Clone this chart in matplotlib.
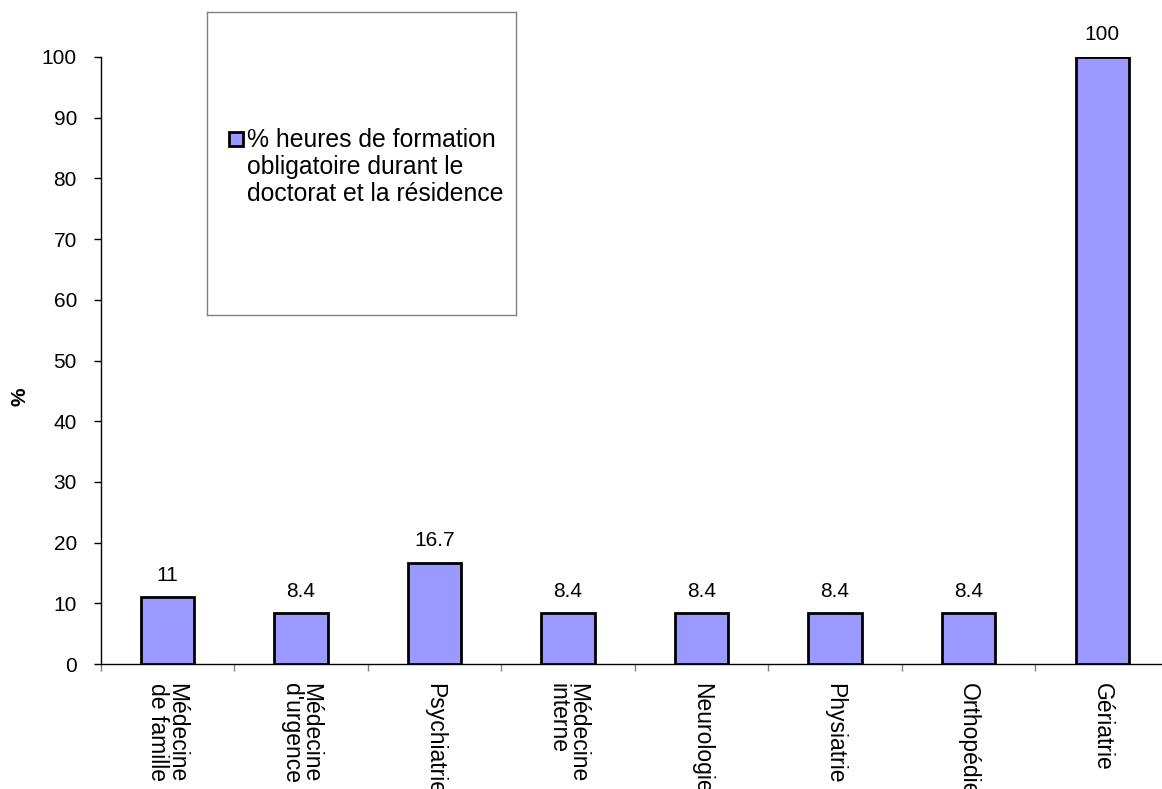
import numpy as np
import matplotlib
matplotlib.use("Agg")
import matplotlib.pyplot as plt

# data
categories = ["Médecine\nde famille", "Médecine\nd'urgence", "Psychiatrie", "Médecine\ninterne",
              "Neurologie", "Physiatrie", "Orthopédie", "Gériatrie"]
values = [11, 8.4, 16.7, 8.4, 8.4, 8.4, 8.4, 100]
value_labels = ["11", "8.4", "16.7", "8.4", "8.4", "8.4", "8.4", "100"]
yticks = list(range(0, 101, 10))
series_name = "% heures de formation\nobligatoire durant le\ndoctorat et la résidence"

plt.rcParams['font.family'] = ['Liberation Sans', 'DejaVu Sans']

W, H = 1162, 789
fig = plt.figure(figsize=(W / 100, H / 100), dpi=100)
ax = fig.add_axes([100.5 / W, 1 - 664 / H, (1169 - 100.5) / W, (664 - 57) / H])

x = np.arange(len(categories))
ax.bar(x, values, width=0.4, color="#9999FF", edgecolor="black", linewidth=2,
       label=series_name, zorder=3)

for xi, v, lab in zip(x, values, value_labels):
    ax.annotate(lab, (xi, v), xytext=(0, 9), textcoords="offset points",
                ha="center", va="bottom", fontsize=15)

ax.set_xlim(-0.5, len(categories) - 0.5)
ax.set_ylim(0, 100)
ax.set_yticks(yticks)
ax.tick_params(axis="y", labelsize=15, length=5, width=1, direction="out", pad=12)

# category labels centered, ticks at boundaries
ax.set_xticks(np.arange(len(categories) + 1) - 0.5)
ax.set_xticklabels([])
ax.tick_params(axis="x", length=5, width=1, color="#808080", direction="out")
for xi, cat in zip(x, categories):
    ax.text(xi, -19 / (664 - 57), cat, transform=ax.get_xaxis_transform(), rotation=270,
            ha="center", va="top", fontsize=16.5, multialignment="left", linespacing=0.8)

ax.spines["top"].set_visible(False)
ax.spines["right"].set_visible(False)
ax.spines["left"].set_linewidth(1)
ax.spines["bottom"].set_linewidth(1)

# y label "%"
fig.text(19.5 / W, 1 - 397 / H, "%", rotation=90, ha="center", va="center",
         fontsize=15, fontweight="bold")

# legend box
leg_ax = fig.add_axes([207 / W, 1 - 315 / H, (516 - 207) / W, (315 - 12) / H])
leg_ax.set_xticks([])
leg_ax.set_yticks([])
for s in leg_ax.spines.values():
    s.set_color("#808080")
    s.set_linewidth(1)
leg_ax.set_facecolor("white")
fig.patches.append(plt.Rectangle((229 / W, 1 - 146 / H), 14 / W, 14 / H, facecolor="#9999FF",
                                 edgecolor="black", linewidth=2, transform=fig.transFigure))
fig.text(247 / W, 1 - 128 / H, series_name, ha="left", va="top",
         fontsize=17.8, linespacing=1.15)

fig.savefig("out.png", dpi=100)
